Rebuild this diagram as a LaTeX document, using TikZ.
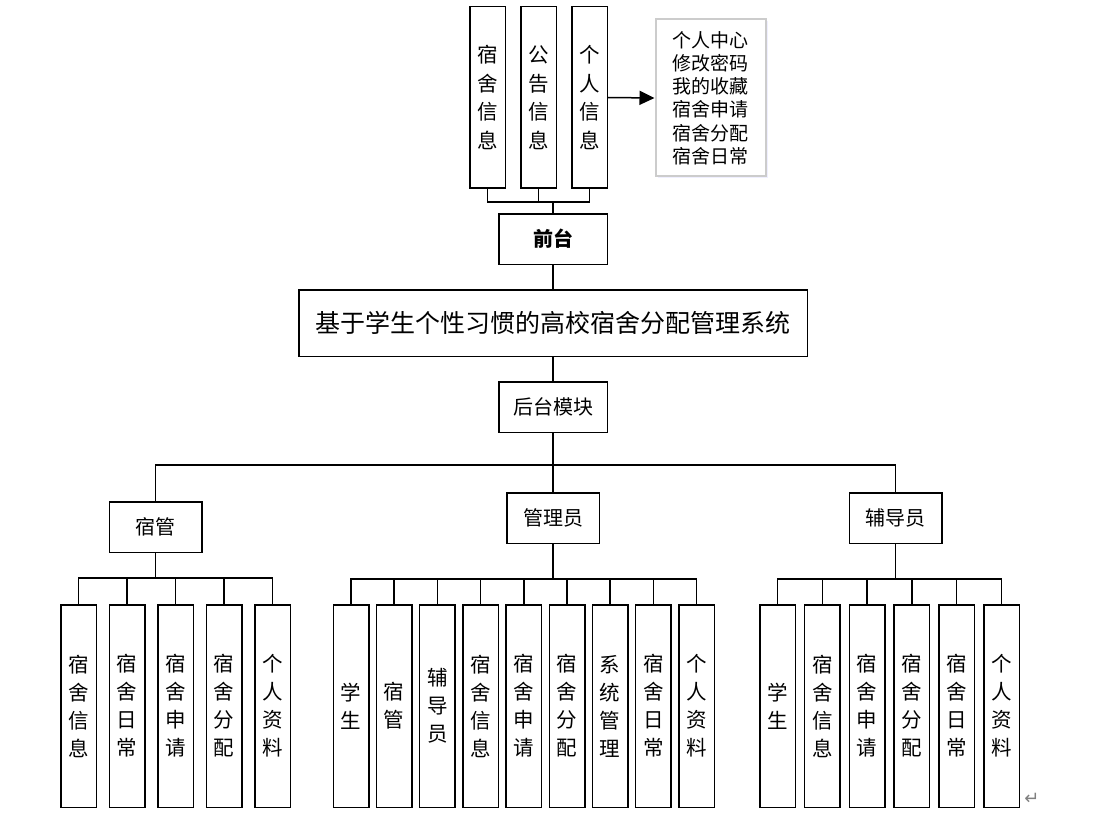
\documentclass[tikz,border=0pt]{standalone}
\usepackage{fontspec}
\setmainfont{Noto Sans CJK SC}
\newfontfamily\symfont{DejaVu Sans}
\usetikzlibrary{positioning,arrows.meta,shadows}
\tikzstyle{top_box} = [rectangle, draw=black, line width=1.5pt,
minimum width=35.5pt,
minimum height=181.5pt,
inner sep=0pt, align=center,
font=\fontsize{20.5}{28.5}\selectfont]
\tikzstyle{leaf} = [rectangle, draw=black, line width=1.5pt,
minimum width=35.5pt,
minimum height=202.5pt,
inner sep=0pt, align=center,
font=\fontsize{20.5}{28}\selectfont]
\tikzstyle{module} = [rectangle, draw=black, line width=1.5pt,
minimum width=108.5pt,
minimum height=50.5pt,
inner sep=0pt,
font=\fontsize{20}{24}\selectfont]
\tikzstyle{role} = [rectangle, draw=black, line width=1.5pt,
minimum width=92.5pt,
minimum height=50.5pt,
inner sep=0pt,
font=\fontsize{20}{24}\selectfont]
\tikzstyle{link} = [line width=1.5pt]
\tikzstyle{arrow} = [line width=1.5pt,-{Triangle[length=15pt,width=14pt]}]

\begin{document}
\begin{tikzpicture}[x=1pt,y=-1pt]

\fill[white] (0,0) rectangle (1113,821);
\useasboundingbox (0,0) rectangle (1113,821);

% Front end modules
\node (Top_Dorm) [top_box] at (487.5,97.5) {宿\\舍\\信\\息};
\node (Top_Notice) [top_box] at (538.5,97.5) {公\\告\\信\\息};
\node (Top_Person) [top_box] at (589.5,97.5) {个\\人\\信\\息};
\node (Front) [module, font=\fontsize{20}{24}\selectfont\bfseries] at (553,239) {前台};

% List of personal info items
\node (Person_List) [rectangle, draw=gray!40, line width=2pt, fill=white,
  drop shadow={shadow xshift=2pt, shadow yshift=-2pt, opacity=0.15, fill=blue!40},
  minimum width=110pt, minimum height=157pt, align=left,
  font=\fontsize{19}{23.2}\selectfont] at (710.5,98)
  {个人中心\\修改密码\\我的收藏\\宿舍申请\\宿舍分配\\宿舍日常};

% System title and back end
\node (System) [rectangle, draw=black, line width=1.5pt, minimum width=508.5pt,
  minimum height=66.5pt, inner sep=0pt, font=\fontsize{25}{28}\selectfont] at (553,323)
  {基于学生个性习惯的高校宿舍分配管理系统};
\node (Back) [module] at (553,407) {后台模块};

% Roles
\node (Dorm_Manager) [role] at (155.5,527) {宿管};
\node (Admin) [role] at (553,518) {管理员};
\node (Counselor) [role] at (895.5,518) {辅导员};

% Dorm manager leaves
\node (Dm_Info) [leaf] at (78.5,706) {宿\\舍\\信\\息};
\node (Dm_Daily) [leaf, right=11.5pt of Dm_Info] {宿\\舍\\日\\常};
\node (Dm_Apply) [leaf, right=11.5pt of Dm_Daily] {宿\\舍\\申\\请};
\node (Dm_Alloc) [leaf, right=11.5pt of Dm_Apply] {宿\\舍\\分\\配};
\node (Dm_Profile) [leaf, right=11.5pt of Dm_Alloc] {个\\人\\资\\料};

% Admin leaves
\node (Ad_Student) [leaf] at (351,706) {学\\生};
\node (Ad_Manager) [leaf, right=6.2pt of Ad_Student] {宿\\管};
\node (Ad_Counselor) [leaf, right=6.2pt of Ad_Manager] {辅\\导\\员};
\node (Ad_Info) [leaf, right=6.2pt of Ad_Counselor] {宿\\舍\\信\\息};
\node (Ad_Apply) [leaf, right=6.2pt of Ad_Info] {宿\\舍\\申\\请};
\node (Ad_Alloc) [leaf, right=6.2pt of Ad_Apply] {宿\\舍\\分\\配};
\node (Ad_System) [leaf, right=6.2pt of Ad_Alloc] {系\\统\\管\\理};
\node (Ad_Daily) [leaf, right=6.2pt of Ad_System] {宿\\舍\\日\\常};
\node (Ad_Profile) [leaf, right=6.2pt of Ad_Daily] {个\\人\\资\\料};

% Counselor leaves
\node (Co_Student) [leaf] at (777.5,706) {学\\生};
\node (Co_Info) [leaf, right=7.8pt of Co_Student] {宿\\舍\\信\\息};
\node (Co_Apply) [leaf, right=7.8pt of Co_Info] {宿\\舍\\申\\请};
\node (Co_Alloc) [leaf, right=7.8pt of Co_Apply] {宿\\舍\\分\\配};
\node (Co_Daily) [leaf, right=7.8pt of Co_Alloc] {宿\\舍\\日\\常};
\node (Co_Profile) [leaf, right=7.8pt of Co_Daily] {个\\人\\资\\料};

% Paragraph mark
\node (Para_Mark) [text=gray, font=\symfont\fontsize{18}{18}\selectfont] at (1032,799) {↵};

% Connections of front end
\draw [link] (Top_Dorm.south) -- ++(0,13) -| (Front.north);
\draw [link] (Top_Notice.south) -- ++(0,13) -| (Front.north);
\draw [link] (Top_Person.south) -- ++(0,13) -| (Front.north);
\draw [arrow] (Top_Person.east) -- (Person_List.west);

% Front end, title and back end
\draw [link] (Front) -- (System);
\draw [link] (System) -- (Back);

% Back end to roles
\draw [link] (Back.south) -- ++(0,32) -| (Dorm_Manager.north);
\draw [link] (Back.south) -- ++(0,32) -| (Admin.north);
\draw [link] (Back.south) -- ++(0,32) -| (Counselor.north);

% Dorm manager to leaves
\draw [link] (Dorm_Manager.south) -- ++(0,25) -| (Dm_Info.north);
\draw [link] (Dorm_Manager.south) -- ++(0,25) -| (Dm_Daily.north);
\draw [link] (Dorm_Manager.south) -- ++(0,25) -| (Dm_Apply.north);
\draw [link] (Dorm_Manager.south) -- ++(0,25) -| (Dm_Alloc.north);
\draw [link] (Dorm_Manager.south) -- ++(0,25) -| (Dm_Profile.north);

% Admin to leaves
\draw [link] (Admin.south) -- ++(0,35) -| (Ad_Student.north);
\draw [link] (Admin.south) -- ++(0,35) -| (Ad_Manager.north);
\draw [link] (Admin.south) -- ++(0,35) -| (Ad_Counselor.north);
\draw [link] (Admin.south) -- ++(0,35) -| (Ad_Info.north);
\draw [link] (Admin.south) -- ++(0,35) -| (Ad_Apply.north);
\draw [link] (Admin.south) -- ++(0,35) -| (Ad_Alloc.north);
\draw [link] (Admin.south) -- ++(0,35) -| (Ad_System.north);
\draw [link] (Admin.south) -- ++(0,35) -| (Ad_Daily.north);
\draw [link] (Admin.south) -- ++(0,35) -| (Ad_Profile.north);

% Counselor to leaves
\draw [link] (Counselor.south) -- ++(0,35) -| (Co_Student.north);
\draw [link] (Counselor.south) -- ++(0,35) -| (Co_Info.north);
\draw [link] (Counselor.south) -- ++(0,35) -| (Co_Apply.north);
\draw [link] (Counselor.south) -- ++(0,35) -| (Co_Alloc.north);
\draw [link] (Counselor.south) -- ++(0,35) -| (Co_Daily.north);
\draw [link] (Counselor.south) -- ++(0,35) -| (Co_Profile.north);

\end{tikzpicture}
\end{document}
